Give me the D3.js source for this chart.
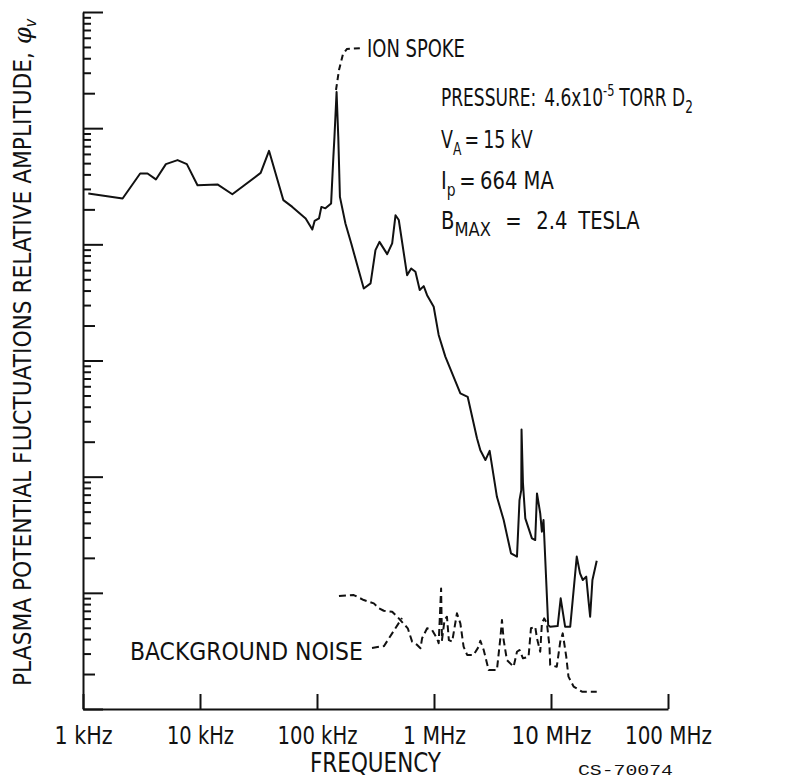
<!DOCTYPE html>
<html>
<head>
<meta charset="utf-8">
<script src="https://cdn.jsdelivr.net/npm/d3@7"></script>
<style>
  html, body { margin: 0; padding: 0; background: #fff; }
  svg { display: block; }
  text { font-family: 'Liberation Sans Narrow', 'DejaVu Sans Condensed', 'Arial Narrow', sans-serif; fill: #111; }
</style>
</head>
<body>
<svg id="chart" width="785" height="780"></svg>
<script>
// ---- Data (frequency in kHz, relative amplitude) ----
const xTickValues = [1, 10, 100, 1000, 10000, 100000];
const xTickLabels = ["1 kHz", "10 kHz", "100 kHz", "1 MHz", "10 MHz", "100 MHz"];

const mainFreq = [1.11, 2.18, 3.08, 3.56, 4.20, 5.11, 6.43, 7.72, 9.52, 14.1, 18.9, 33.0, 38.9, 51.6, 61.5, 80.0, 91.2, 95.4, 104, 109, 118, 132, 138, 141, 147, 152, 157, 175, 196, 251, 287, 316, 342, 398, 439, 469, 500, 589, 638, 694, 755, 817, 873, 994, 1096, 1250, 1680, 1940, 2330, 2490, 2750, 2990, 3450, 3940, 4550, 5120, 5380, 5570, 5600, 5760, 6030, 6870, 7330, 7590, 8090, 8360, 8630, 9460, 9840, 11400, 12100, 13200, 14600, 16600, 17700, 18700, 20000, 20900, 21600, 22600, 24600];
const mainAmp = [27400, 24800, 40700, 40700, 36200, 49000, 53100, 49000, 32300, 32800, 27000, 41200, 63800, 24000, 21000, 16700, 13400, 15900, 16700, 21000, 20400, 22500, 56600, 84200, 205000, 84200, 25600, 15100, 10200, 4170, 4610, 8910, 10500, 8240, 10200, 17800, 16200, 5430, 6200, 5800, 4040, 4370, 3650, 2900, 1660, 1080, 521, 487, 214, 169, 139, 167, 67.1, 42.3, 21.9, 20.5, 62.9, 76.7, 255, 87.5, 43.8, 29.4, 28.5, 71.8, 48.3, 33.6, 42.3, 5.28, 5.11, 5.18, 8.97, 5.11, 5.11, 20.5, 14.7, 12.9, 13.8, 8.67, 6.23, 12.9, 18.9];

const noiseFreq = [154, 206, 251, 306, 338, 372, 439, 500, 597, 650, 718, 766, 791, 873, 963, 1060, 1096, 1150, 1170, 1230, 1290, 1340, 1430, 1570, 1680, 1790, 1920, 2180, 2410, 2490, 2660, 2930, 3450, 3690, 3810, 3940, 4200, 4790, 5120, 5380, 5760, 6430, 6740, 7330, 7590, 8090, 8360, 8750, 9230, 9710, 9840, 11200, 12000, 12600, 13500, 14100, 15600, 18400, 24600];
const noiseAmp = [9.38, 9.57, 8.67, 8.12, 7.36, 7.01, 6.88, 6.03, 4.95, 3.80, 3.56, 3.33, 4.06, 4.95, 4.79, 4.06, 3.68, 10.9, 3.92, 5.83, 6.23, 3.92, 3.80, 6.66, 5.46, 3.44, 2.92, 2.92, 3.44, 3.87, 3.22, 2.17, 2.17, 4.06, 5.83, 3.92, 2.64, 2.31, 3.11, 3.22, 2.73, 2.82, 4.95, 5.11, 4.06, 3.11, 5.46, 6.03, 5.46, 3.44, 2.39, 2.31, 3.80, 4.48, 2.82, 1.90, 1.56, 1.41, 1.41];

// ---- Chart ----
const svg = d3.select("#chart");
const x = d3.scaleLog().domain([1, 1e5]).range([83, 668]);
const y = d3.scaleLog().domain([1, 1e6]).range([709, 12]);

// Y axis (no labels, log minor ticks pointing inwards)
const yTicks = [];
for (let d = 0; d < 6; d++) for (let k = 1; k <= 9; k++) yTicks.push(k * Math.pow(10, d));
yTicks.push(1e6);
const yAxisG = svg.append("g").attr("transform", "translate(83,0)")
  .call(d3.axisRight(y).tickValues(yTicks).tickFormat("").tickSizeOuter(0));
yAxisG.selectAll(".tick line").attr("x2", d => {
  const m = Math.round(d / Math.pow(10, Math.floor(Math.log10(d) + 1e-9)));
  return m === 1 ? 20 : (m === 2 ? 12 : 8);
});

// X axis
const tickWidths = [58, 67, 80, 63, 80, 87];
const xAxisG = svg.append("g").attr("transform", "translate(0,709)")
  .call(d3.axisBottom(x).tickValues(xTickValues).tickSize(-15).tickSizeOuter(0)
    .tickFormat((d, i) => xTickLabels[i]));
xAxisG.selectAll(".tick text").attr("y", 35).attr("dy", 0)
  .attr("font-size", 25).attr("fill", "#111")
  .attr("textLength", (d, i) => tickWidths[i]).attr("lengthAdjust", "spacingAndGlyphs")
  .style("font-family", "'Liberation Sans Narrow', 'DejaVu Sans Condensed', sans-serif");

[yAxisG, xAxisG].forEach(g => {
  g.select(".domain").attr("stroke", "#111").attr("stroke-width", 2);
  g.selectAll(".tick line").attr("stroke", "#111").attr("stroke-width", 2);
});

const line = d3.line().x(d => x(d[0])).y(d => y(d[1]));

svg.append("path")
  .datum(mainFreq.map((f, i) => [f, mainAmp[i]]))
  .attr("d", line).attr("fill", "none").attr("stroke", "#111")
  .attr("stroke-width", 2).attr("stroke-linejoin", "round");

svg.append("path")
  .datum(noiseFreq.map((f, i) => [f, noiseAmp[i]]))
  .attr("d", line).attr("fill", "none").attr("stroke", "#111")
  .attr("stroke-width", 2).attr("stroke-dasharray", "7,4").attr("stroke-linejoin", "round");

// Axis titles
svg.append("text").attr("x", 310).attr("y", 772)
  .attr("font-size", 26).attr("textLength", 131).attr("lengthAdjust", "spacingAndGlyphs")
  .text("FREQUENCY");

svg.append("text").attr("x", 578).attr("y", 775)
  .attr("font-size", 15).attr("textLength", 95).attr("lengthAdjust", "spacingAndGlyphs")
  .style("font-family", "'Liberation Mono', 'DejaVu Sans Mono', monospace")
  .text("CS-70074");

svg.append("text").attr("transform", "translate(31,686) rotate(-90)")
  .attr("font-size", 25).attr("textLength", 634).attr("lengthAdjust", "spacingAndGlyphs")
  .text("PLASMA POTENTIAL FLUCTUATIONS RELATIVE AMPLITUDE,");
const phi = svg.append("text").attr("transform", "translate(31,44) rotate(-90)").attr("font-size", 24);
phi.append("tspan").attr("font-style", "italic").style("font-family", "'DejaVu Serif', serif").text("φ");
phi.append("tspan").attr("font-size", 16).attr("dy", 5).attr("font-style", "italic").text("v");

// Annotations: each line drawn at natural size, then condensed horizontally to the reference width
function fitLine(px, py, width, build) {
  const g = svg.append("g");
  const t = g.append("text").attr("x", 0).attr("y", 0).attr("font-size", 24);
  build(t);
  const w = t.node().getBBox().width;
  g.attr("transform", `translate(${px},${py}) scale(${width / w},1)`);
  return g;
}

svg.append("path").attr("d", "M336,90 L339,70 L343,54 L347,49 L362,48")
  .attr("fill", "none").attr("stroke", "#111").attr("stroke-width", 2).attr("stroke-dasharray", "6,4");
fitLine(367, 57, 98, t => t.text("ION SPOKE"));

svg.append("path").attr("d", "M372,648 L384,646 L402,618")
  .attr("fill", "none").attr("stroke", "#111").attr("stroke-width", 2).attr("stroke-dasharray", "7,4");
fitLine(130, 660, 233, t => t.text("BACKGROUND NOISE"));

fitLine(441, 106, 252, t => {
  t.append("tspan").text("PRESSURE:");
  t.append("tspan").attr("dx", 10).text("4.6x10");
  t.append("tspan").attr("font-size", 16).attr("dy", -10).text("-5");
  t.append("tspan").attr("dy", 10).attr("dx", 6).text("TORR D");
  t.append("tspan").attr("font-size", 17).attr("dy", 7).text("2");
});

fitLine(441, 148, 92, t => {
  t.append("tspan").text("V");
  t.append("tspan").attr("font-size", 17).attr("dy", 7).text("A");
  t.append("tspan").attr("dy", -7).attr("dx", 4).text("=");
  t.append("tspan").attr("dx", 5).text("15 kV");
});

fitLine(441, 189, 113, t => {
  t.append("tspan").text("I");
  t.append("tspan").attr("font-size", 17).attr("dy", 7).text("p");
  t.append("tspan").attr("dy", -7).attr("dx", 4).text("=");
  t.append("tspan").attr("dx", 5).text("664 MA");
});

fitLine(441, 229, 199, t => {
  t.append("tspan").text("B");
  t.append("tspan").attr("font-size", 20).attr("dy", 7).text("MAX");
  t.append("tspan").attr("dy", -7).attr("dx", 16).text("=");
  t.append("tspan").attr("dx", 16).text("2.4");
  t.append("tspan").attr("dx", 12).text("TESLA");
});
</script>
</body>
</html>
